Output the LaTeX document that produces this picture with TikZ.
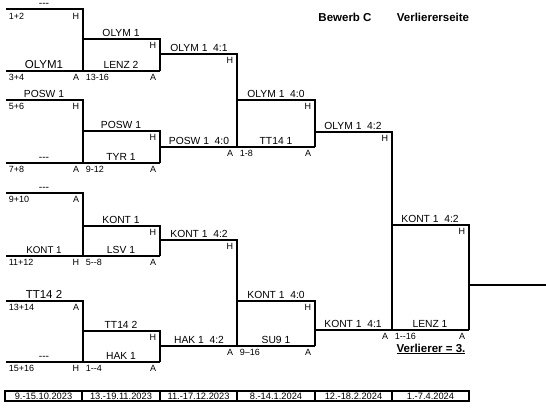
\documentclass[tikz,border=0pt]{standalone}
\usepackage{fontspec}
\setmainfont{Liberation Sans}
\begin{document}
\begin{tikzpicture}[x=1pt, y=-1pt, line width=1.7pt,
		first/.style={line width=2.2pt},
		team/.style={anchor=base, inner sep=0pt, font=\fontsize{10.3}{12}\selectfont},
		seedl/.style={anchor=base west, inner sep=0pt, font=\fontsize{9}{10}\selectfont},
		seedr/.style={anchor=base east, inner sep=0pt, font=\fontsize{9}{10}\selectfont},
		head/.style={anchor=base, inner sep=0pt, font=\fontsize{11.5}{14}\selectfont\bfseries},
		datebox/.style={draw, line width=1.3pt, minimum width=77pt, minimum height=10pt, inner sep=0pt, font=\fontsize{9.3}{10}\selectfont}]
		\useasboundingbox (0, 0) rectangle (546, 410);
		
		\draw[first] (6, 9) -- (83, 9) -- (83, 71);
		\draw[first] (6, 71) -- (160, 71);
		\draw[first] (6, 100) -- (83, 100) -- (83, 163);
		\draw[first] (6, 163) -- (160, 163);
		\draw[first] (6, 193) -- (83, 193) -- (83, 256);
		\draw[first] (6, 256) -- (160, 256);
		\draw[first] (6, 301) -- (83, 301) -- (83, 362);
		\draw[first] (6, 362) -- (160, 362);
		
		\draw (83, 39) -- (160, 39) -- (160, 71);
		\draw (83, 131) -- (160, 131) -- (160, 163);
		\draw (83, 226) -- (160, 226) -- (160, 256);
		\draw (83, 331) -- (160, 331) -- (160, 362);
		
		\draw (160, 54) -- (237, 54) -- (237, 147);
		\draw (160, 147) -- (315, 147);
		\draw (160, 240) -- (237, 240) -- (237, 346);
		\draw (160, 346) -- (315, 346);
		
		\draw (237, 100) -- (315, 100) -- (315, 147);
		\draw (237, 301) -- (315, 301) -- (315, 346);
		
		\draw (315, 132) -- (392, 132) -- (392, 330);
		\draw (315, 330) -- (469, 330);
		\draw (392, 225) -- (469, 225) -- (469, 330);
		\draw (469, 285) -- (546, 285);
		
		\node[head] (title) at (345, 21) {Bewerb C};
		\node[head] (side) at (433, 21) {Verliererseite};
		
		\node[team] (t12) at (44, 6) {-{}-{}-};
		\node[seedl] (s12) at (8, 19) {1+2};
		\node[seedr] (h12) at (80, 19) {H};
		\node[team, font=\fontsize{11.5}{13}\selectfont] (t34) at (44, 68) {OLYM1};
		\node[seedl] (s34) at (8, 80.5) {3+4};
		\node[seedr] (a34) at (80, 80.5) {A};
		\node[team] (t56) at (44, 97) {POSW 1};
		\node[seedl] (s56) at (8, 109.5) {5+6};
		\node[seedr] (h56) at (80, 109.5) {H};
		\node[team] (t78) at (44, 160) {-{}-{}-};
		\node[seedl] (s78) at (8, 172.5) {7+8};
		\node[seedr] (a78) at (80, 172.5) {A};
		\node[team] (t910) at (44, 190) {-{}-{}-};
		\node[seedl] (s910) at (8, 202.5) {9+10};
		\node[seedr] (a910) at (80, 202.5) {A};
		\node[team, font=\fontsize{9.8}{11}\selectfont] (t1112) at (44, 253) {KONT 1};
		\node[seedl] (s1112) at (8, 265.5) {11+12};
		\node[seedr] (h1112) at (80, 265.5) {H};
		\node[team, font=\fontsize{11.5}{13}\selectfont] (t1314) at (44, 298) {TT14 2};
		\node[seedl] (s1314) at (8, 310.5) {13+14};
		\node[seedr] (a1314) at (80, 310.5) {A};
		\node[team] (t1516) at (44, 359) {-{}-{}-};
		\node[seedl] (s1516) at (8, 371.5) {15+16};
		\node[seedr] (h1516) at (80, 371.5) {H};
		
		\node[team] (q1) at (121, 36) {OLYM 1};
		\node[seedr] (qh1) at (157, 48.5) {H};
		\node[team] (q2) at (121, 68) {LENZ 2};
		\node[seedl] (qs2) at (85, 80.5) {13-16};
		\node[seedr] (qa2) at (157, 80.5) {A};
		\node[team] (q3) at (121, 128) {POSW 1};
		\node[seedr] (qh3) at (157, 140.5) {H};
		\node[team] (q4) at (121, 160) {TYR 1};
		\node[seedl] (qs4) at (85, 172.5) {9-12};
		\node[seedr] (qa4) at (157, 172.5) {A};
		\node[team] (q5) at (121, 223) {KONT 1};
		\node[seedr] (qh5) at (157, 235.5) {H};
		\node[team] (q6) at (121, 253) {LSV 1};
		\node[seedl] (qs6) at (85, 265.5) {5-{}-8};
		\node[seedr] (qa6) at (157, 265.5) {A};
		\node[team] (q7) at (121, 328) {TT14 2};
		\node[seedr] (qh7) at (157, 340.5) {H};
		\node[team] (q8) at (121, 359) {HAK 1};
		\node[seedl] (qs8) at (85, 371.5) {1-{}-4};
		\node[seedr] (qa8) at (157, 371.5) {A};
		
		\node[team] (r1) at (199, 51) {OLYM 1\ \ 4:1};
		\node[seedr] (rh1) at (234, 63.5) {H};
		\node[team] (r2) at (199, 144) {POSW 1\ \ 4:0};
		\node[seedr] (ra2) at (234, 156.5) {A};
		\node[seedl] (rs2) at (239, 156.5) {1-8};
		\node[team] (r3) at (199, 237) {KONT 1\ \ 4:2};
		\node[seedr] (rh3) at (234, 249.5) {H};
		\node[team] (r4) at (199, 343) {HAK 1\ \ 4:2};
		\node[seedr] (ra4) at (234, 355.5) {A};
		\node[seedl] (rs4) at (239, 355.5) {9--16};
		
		\node[team] (v1) at (276, 97) {OLYM 1\ \ 4:0};
		\node[seedr] (vh1) at (312, 109.5) {H};
		\node[team] (v2) at (276, 144) {TT14 1};
		\node[seedr] (va2) at (312, 156.5) {A};
		\node[team] (v3) at (276, 298) {KONT 1\ \ 4:0};
		\node[seedr] (vh3) at (312, 310.5) {H};
		\node[team] (v4) at (276, 343) {SU9 1};
		\node[seedr] (va4) at (312, 355.5) {A};
		
		\node[team] (w1) at (353, 129) {OLYM 1\ \ 4:2};
		\node[seedr] (wh1) at (389, 141.5) {H};
		\node[team] (w2) at (353, 327) {KONT 1\ \ 4:1};
		\node[seedr] (wa2) at (389, 339.5) {A};
		\node[seedl] (ws2) at (394, 339.5) {1-{}-16};
		
		\node[team] (f1) at (430, 222) {KONT 1\ \ 4:2};
		\node[seedr] (fh1) at (466, 234.5) {H};
		\node[team] (f2) at (430, 327) {LENZ 1};
		\node[seedr] (fa2) at (466, 339.5) {A};
		\node[head] (loser) at (431, 352) {\underline{Verlierer = 3.}};
		
		\node[datebox] (d1) at (43.5, 396) {9.-15.10.2023};
		\node[datebox] (d2) at (121, 396) {13.-19.11.2023};
		\node[datebox] (d3) at (198.5, 396) {11.-17.12.2023};
		\node[datebox] (d4) at (276, 396) {8.-14.1.2024};
		\node[datebox] (d5) at (353.5, 396) {12.-18.2.2024};
		\node[datebox] (d6) at (430.5, 396) {1.-7.4.2024};
	\end{tikzpicture}
\end{document}
